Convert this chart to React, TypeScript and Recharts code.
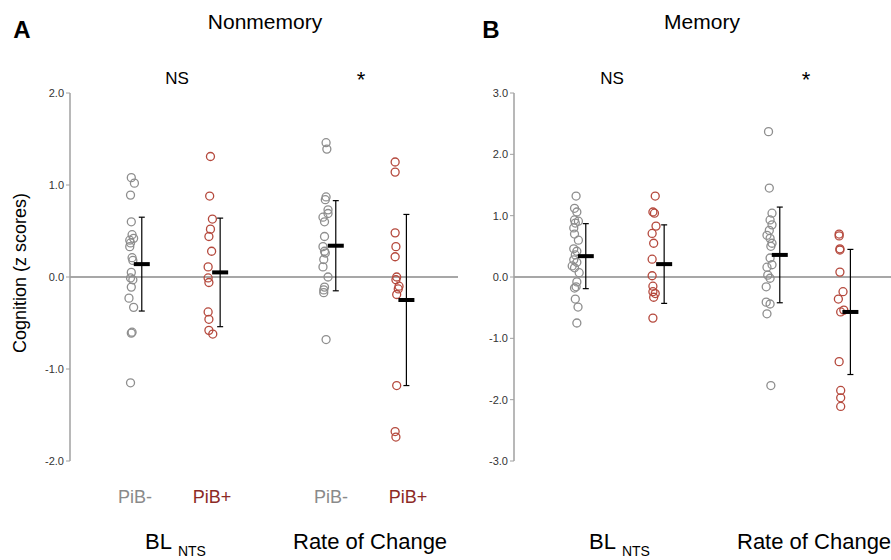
import React from 'react'
import { ScatterChart, Scatter, XAxis, YAxis, ReferenceLine, ErrorBar } from 'recharts'

// group order: BL PiB-, BL PiB+, Rate PiB-, Rate PiB+
const groupLabels = ['PiB-', 'PiB+', 'PiB-', 'PiB+']
const groupX = [0.79, 1.8, 3.29, 4.2]
const pointColors = ['#8e8e8e', '#b5493d', '#8e8e8e', '#b5493d']
const labelColors = ['#8a8a8a', '#8c2a26', '#8a8a8a', '#8c2a26']

// Nonmemory (panel A)
const nmBlNeg = [1.08, 1.02, 0.89, 0.6, 0.46, 0.42, 0.4, 0.37, 0.33, 0.21, 0.18, 0.05, -0.01, -0.03, -0.11, -0.23, -0.33, -0.6, -0.61, -1.15]
const nmBlNegJit = [0, 0.04, -0.01, 0, 0.01, 0.03, -0.02, -0.01, -0.02, 0.01, 0.02, 0, -0.01, 0.02, 0, -0.03, 0.03, 0.01, 0, -0.01]
const nmBlPos = [1.31, 0.88, 0.63, 0.52, 0.44, 0.28, 0.11, -0.01, -0.06, -0.38, -0.46, -0.58, -0.62]
const nmBlPosJit = [0.01, 0, 0.035, 0.01, -0.01, 0.025, -0.02, -0.02, -0.01, -0.02, -0.01, -0.01, 0.04]
const nmRcNeg = [1.46, 1.39, 0.87, 0.84, 0.73, 0.69, 0.65, 0.6, 0.44, 0.33, 0.28, 0.26, 0.19, 0.11, 0.0, -0.11, -0.14, -0.17, -0.68]
const nmRcNegJit = [0.01, 0.02, 0.01, 0, 0.035, 0.035, -0.03, -0.01, -0.01, -0.03, -0.01, 0, -0.02, -0.03, 0.035, -0.01, -0.02, -0.02, 0.01]
const nmRcPos = [1.25, 1.14, 0.48, 0.33, 0.22, 0.0, -0.03, -0.1, -0.13, -0.19, -1.18, -1.68, -1.74]
const nmRcPosJit = [-0.01, -0.01, -0.01, 0, -0.01, 0.01, 0, 0.04, 0.03, 0.01, 0.01, -0.01, 0]
const nmMeans = [0.14, 0.05, 0.34, -0.25]
const nmSd = [0.51, 0.59, 0.49, 0.93]

// Memory (panel B)
const mBlNeg = [1.32, 1.12, 1.06, 0.93, 0.91, 0.88, 0.8, 0.7, 0.6, 0.46, 0.42, 0.36, 0.28, 0.24, 0.18, 0.15, 0.07, -0.08, -0.16, -0.18, -0.36, -0.49, -0.75]
const mBlNegJit = [0.01, -0.01, 0.02, -0.01, 0.04, 0, -0.02, -0.01, 0.04, -0.02, 0.02, 0, -0.02, 0.02, -0.04, -0.01, 0.05, 0.02, 0.01, -0.01, 0, 0.035, 0.02]
const mBlPos = [1.32, 1.06, 1.04, 0.83, 0.71, 0.55, 0.29, 0.02, -0.15, -0.24, -0.27, -0.33, -0.67]
const mBlPosJit = [0.02, -0.01, 0.01, 0.03, -0.02, 0, -0.02, -0.02, -0.01, -0.01, 0.02, 0, -0.01]
const mRcNeg = [2.37, 1.45, 1.04, 0.93, 0.85, 0.76, 0.68, 0.63, 0.55, 0.5, 0.31, 0.2, 0.16, 0.03, -0.02, -0.16, -0.41, -0.44, -0.6, -1.77]
const mRcNegJit = [-0.01, 0, 0.035, 0.01, 0.035, 0, -0.03, 0.01, 0.035, 0.02, 0.01, 0.035, -0.03, -0.02, 0.01, -0.04, -0.04, 0.01, -0.03, 0.02]
const mRcPos = [0.7, 0.67, 0.46, 0.44, 0.08, -0.24, -0.36, -0.54, -0.57, -1.38, -1.85, -1.97, -2.11]
const mRcPosJit = [-0.01, -0.01, 0, 0, 0, 0.04, -0.02, 0.05, 0.01, -0.01, 0.01, 0.01, 0.01]
const mMeans = [0.34, 0.21, 0.36, -0.57]
const mSd = [0.53, 0.64, 0.78, 1.02]

const nmTicks = [-2, -1, 0, 1, 2]
const mTicks = [-3, -2, -1, 0, 1, 2, 3]

const FONT = '"Liberation Sans", Arial, Helvetica, sans-serif'

function toPoints(values: number[], jitter: number[], g: number) {
  return values.map((y, i) => ({ x: groupX[g] + jitter[i], y }))
}

function ring(color: string) {
  return (props: any) => (
    <circle cx={props.cx} cy={props.cy} r={4} fill="none" stroke={color} strokeWidth={1.3} />
  )
}

function MeanBar(props: any) {
  return <rect x={props.cx - 8} y={props.cy - 2} width={16} height={4} fill="#000" />
}

interface PanelProps {
  left: number
  series: { values: number[]; jitter: number[] }[]
  means: number[]
  sds: number[]
  ticks: number[]
}

function Panel({ left, series, means, sds, ticks }: PanelProps) {
  const meanData = means.map((m, i) => ({ x: groupX[i] + 0.135, y: m, sd: sds[i] }))
  return (
    <div style={{ position: 'absolute', left, top: 0 }}>
      <ScatterChart width={470} height={560} margin={{ top: 93, right: 12, bottom: 99, left: 0 }}>
        <XAxis type="number" dataKey="x" domain={[0, 5]} hide />
        <YAxis
          type="number"
          dataKey="y"
          domain={[ticks[0], ticks[ticks.length - 1]]}
          ticks={ticks}
          interval={0}
          width={70}
          tickFormatter={(v: number) => v.toFixed(1)}
          axisLine={{ stroke: '#a0a0a0', strokeWidth: 1.5 }}
          tickLine={{ stroke: '#a0a0a0' }}
          tickSize={4}
          tick={{ fill: '#333', fontSize: 11, fontFamily: FONT }}
        />
        <ReferenceLine y={0} stroke="#8a8a8a" strokeWidth={1.5} />
        {series.map((s, g) => (
          <Scatter
            key={g}
            data={toPoints(s.values, s.jitter, g)}
            shape={ring(pointColors[g])}
            isAnimationActive={false}
          />
        ))}
        <Scatter data={meanData} shape={MeanBar} isAnimationActive={false}>
          <ErrorBar dataKey="sd" direction="y" width={3} stroke="#000" strokeWidth={1.2} />
        </Scatter>
      </ScatterChart>
    </div>
  )
}

function Txt({ x, y, size, children, color = '#000', bold = false, rotate = false }: any) {
  return (
    <div
      style={{
        position: 'absolute',
        left: x,
        top: y,
        transform: `translate(-50%, -50%)${rotate ? ' rotate(-90deg)' : ''}`,
        fontSize: size,
        fontWeight: bold ? 'bold' : 'normal',
        color,
        lineHeight: 1,
        whiteSpace: 'nowrap',
      }}
    >
      {children}
    </div>
  )
}

function BottomLabels({ offset }: { offset: number }) {
  return (
    <>
      <div style={{ position: 'absolute', left: 145 + offset, top: 531, fontSize: 22, lineHeight: 1, whiteSpace: 'nowrap' }}>
        BL<span style={{ fontSize: 14, position: 'relative', top: 7, marginLeft: 6 }}>NTS</span>
      </div>
      <div style={{ position: 'absolute', left: 293 + offset, top: 531, fontSize: 22, lineHeight: 1, whiteSpace: 'nowrap' }}>
        Rate of Change
      </div>
    </>
  )
}

export default function App() {
  const nmSeries = [
    { values: nmBlNeg, jitter: nmBlNegJit },
    { values: nmBlPos, jitter: nmBlPosJit },
    { values: nmRcNeg, jitter: nmRcNegJit },
    { values: nmRcPos, jitter: nmRcPosJit },
  ]
  const mSeries = [
    { values: mBlNeg, jitter: mBlNegJit },
    { values: mBlPos, jitter: mBlPosJit },
    { values: mRcNeg, jitter: mRcNegJit },
    { values: mRcPos, jitter: mRcPosJit },
  ]
  const labelX = [135, 212, 331, 408]
  return (
    <div
      style={{
        position: 'absolute',
        left: 0,
        top: 0,
        width: 891,
        height: 560,
        overflow: 'hidden',
        background: '#fff',
        fontFamily: FONT,
      }}
    >
      <Panel left={0} series={nmSeries} means={nmMeans} sds={nmSd} ticks={nmTicks} />
      <Panel left={444} series={mSeries} means={mMeans} sds={mSd} ticks={mTicks} />

      <Txt x={22} y={30} size={24} bold>A</Txt>
      <Txt x={265} y={21} size={21}>Nonmemory</Txt>
      <Txt x={491} y={30} size={24} bold>B</Txt>
      <Txt x={702} y={21} size={21}>Memory</Txt>

      <Txt x={177} y={78} size={17}>NS</Txt>
      <Txt x={361} y={80} size={22}>*</Txt>
      <Txt x={612} y={78} size={17}>NS</Txt>
      <Txt x={806} y={80} size={22}>*</Txt>

      <Txt x={20} y={273} size={18} rotate>Cognition (z scores)</Txt>

      {groupLabels.map((l, i) => (
        <Txt key={i} x={labelX[i]} y={497} size={18} color={labelColors[i]}>{l}</Txt>
      ))}

      <BottomLabels offset={0} />
      <BottomLabels offset={444} />
    </div>
  )
}
